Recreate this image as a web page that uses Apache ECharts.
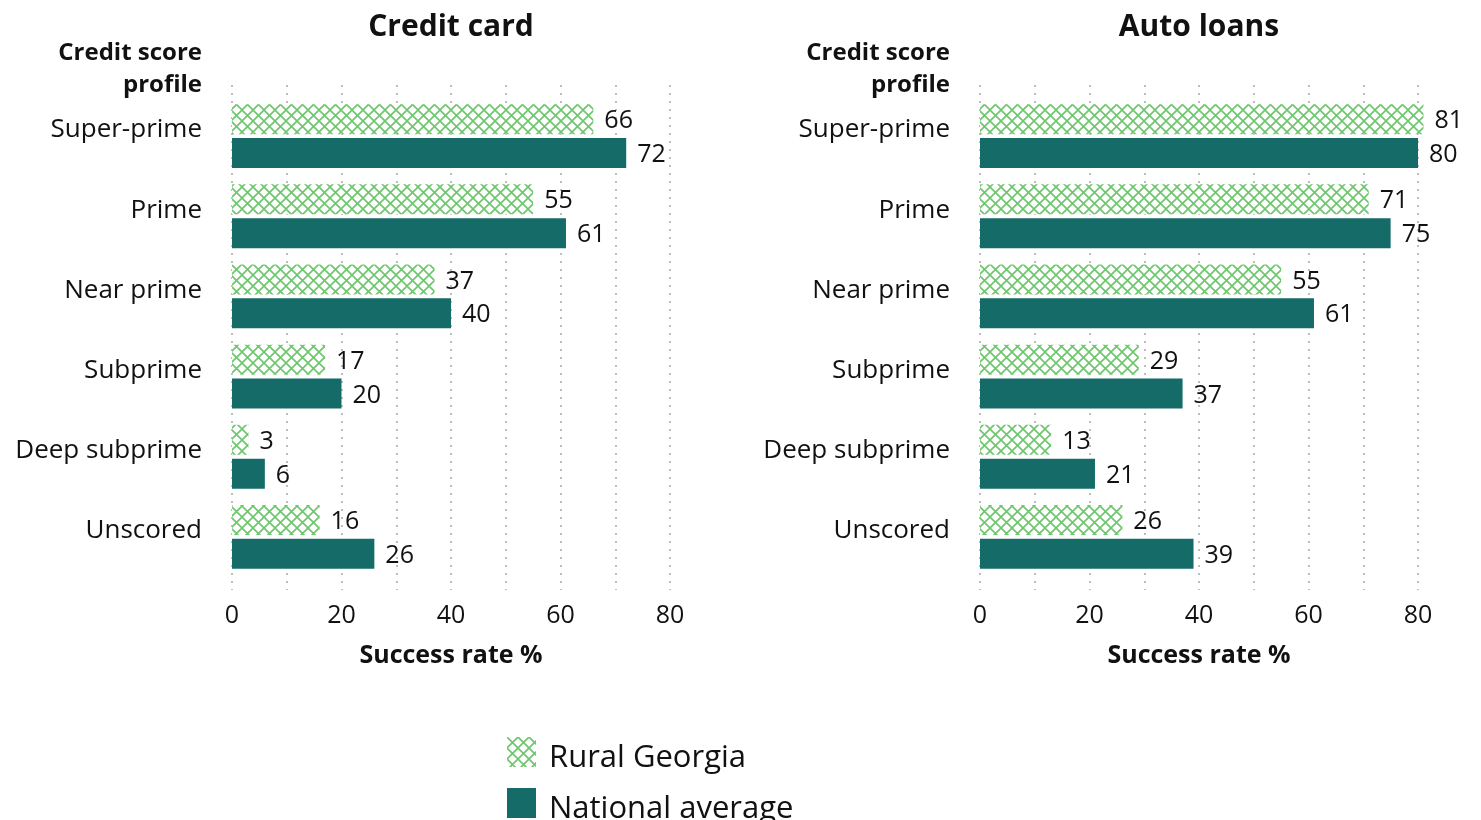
<!DOCTYPE html>
<html>
<head>
<meta charset="utf-8">
<script src="https://cdn.jsdelivr.net/npm/echarts@6/dist/echarts.min.js"></script>
<style>
  html, body { margin: 0; padding: 0; background: #fff; }
  #chart { width: 1481px; height: 820px; }
</style>
</head>
<body>
<div id="chart"></div>
<script>
// Credit score profiles, top to bottom
const categories = ['Super-prime', 'Prime', 'Near prime', 'Subprime', 'Deep subprime', 'Unscored'];
// Success rate %, credit card applications
const creditRural = [66, 55, 37, 17, 3, 16];
const creditNational = [72, 61, 40, 20, 6, 26];
// Success rate %, auto loan applications
const autoRural = [81, 71, 55, 29, 13, 26];
const autoNational = [80, 75, 61, 37, 21, 39];
const xTicks = [0, 20, 40, 60, 80];

const FONT = '"Open Sans"';
const INK = '#111';
const GREEN = '#6cc66c';
const TEAL = '#146b68';

// Cross-hatch fill for the Rural Georgia bars
function hatch() {
  const c = document.createElement('canvas');
  const s = 11;
  c.width = s; c.height = s;
  const g = c.getContext('2d');
  g.fillStyle = '#fff';
  g.fillRect(0, 0, s, s);
  g.strokeStyle = GREEN;
  g.lineWidth = 1.6;
  g.beginPath();
  g.moveTo(0, 0); g.lineTo(s, s);
  g.moveTo(s, 0); g.lineTo(0, s);
  g.stroke();
  return { image: c, repeat: 'repeat' };
}
const hatchFill = hatch();

const panels = [
  { title: 'Credit card', left: 232, rural: creditRural, national: creditNational },
  { title: 'Auto loans', left: 980, rural: autoRural, national: autoNational }
];
const plotW = 438;

const grids = [], xAxes = [], yAxes = [], series = [], titles = [];
panels.forEach((p, i) => {
  // bars
  grids.push({ left: p.left, width: plotW, top: 96, bottom: 820 - 577 });
  // dotted grid lines and tick labels
  grids.push({ left: p.left, width: plotW, top: 85, bottom: 820 - 590 });
  const gb = i * 2, gg = i * 2 + 1;
  xAxes.push({ gridIndex: gb, type: 'value', min: 0, max: 80, show: false });
  xAxes.push({
    gridIndex: gg, type: 'value', min: 0, max: 80, interval: 10,
    axisLine: { show: false }, axisTick: { show: false },
    splitLine: { show: true, lineStyle: { color: '#bdbdbd', width: 2, type: [2, 6] } },
    axisLabel: {
      margin: 13, fontSize: 25, fontFamily: FONT, color: INK,
      formatter: v => (xTicks.indexOf(v) >= 0 ? String(v) : '')
    },
    name: 'Success rate %', nameLocation: 'middle', nameGap: 53,
    nameTextStyle: { fontSize: 25, fontWeight: 'bold', fontFamily: FONT, color: INK }
  });
  yAxes.push({
    gridIndex: gb, type: 'category', data: categories, inverse: true,
    axisLine: { show: false }, axisTick: { show: false },
    axisLabel: {
      margin: 30, fontSize: 26, fontFamily: FONT, color: INK,
      verticalAlign: 'bottom', lineHeight: 12
    }
  });
  yAxes.push({ gridIndex: gg, type: 'value', show: false });

  const label = {
    show: true, position: 'right', distance: 11, offset: [0, 2],
    fontSize: 25, fontFamily: FONT, color: INK
  };
  series.push({
    name: 'Rural Georgia', type: 'bar', xAxisIndex: gb, yAxisIndex: gb,
    data: p.rural, barWidth: 30, barGap: '13%', clip: false,
    itemStyle: { color: hatchFill }, label
  });
  series.push({
    name: 'National average', type: 'bar', xAxisIndex: gb, yAxisIndex: gb,
    data: p.national, barWidth: 30, barGap: '13%', clip: false,
    itemStyle: { color: TEAL }, label
  });

  titles.push({
    text: p.title, left: p.left + plotW / 2, top: 12, textAlign: 'center', padding: 0,
    textStyle: { fontSize: 30, fontWeight: 'bold', fontFamily: FONT, color: INK }
  });
  titles.push({
    text: 'Credit score\nprofile', left: p.left - 30, top: 37, textAlign: 'right', padding: 0,
    textStyle: { fontSize: 24, fontWeight: 'bold', fontFamily: FONT, color: INK, lineHeight: 32, align: 'right' }
  });
});

const legendText = {
  fontSize: 31, fontFamily: FONT, color: INK,
  rich: { t: { fontSize: 31, fontFamily: FONT, color: INK, padding: [12, 0, 0, 8] } }
};
const legendName = name => '{t|' + name + '}';
const chart = echarts.init(document.getElementById('chart'), null, { renderer: 'canvas' });
chart.setOption({
  animation: false,
  backgroundColor: '#fff',
  title: titles,
  grid: grids,
  xAxis: xAxes,
  yAxis: yAxes,
  series,
  legend: [
    {
      left: 507, top: 737, padding: 0, itemWidth: 29, itemHeight: 30, icon: 'rect',
      data: ['Rural Georgia'], textStyle: legendText, formatter: legendName
    },
    {
      left: 507, top: 788, padding: 0, itemWidth: 29, itemHeight: 30, icon: 'rect',
      data: ['National average'], textStyle: legendText, formatter: legendName
    }
  ]
});
</script>
</body>
</html>
